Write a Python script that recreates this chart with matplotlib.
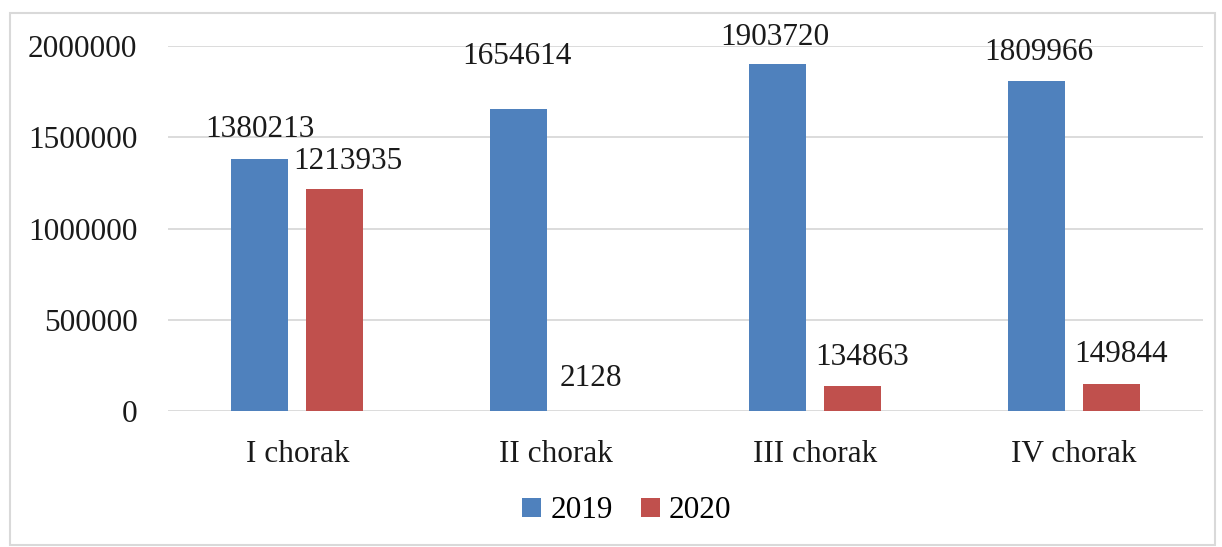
import matplotlib
matplotlib.use("Agg")
import matplotlib.pyplot as plt
from matplotlib.patches import Rectangle
import numpy as np

categories = ["I chorak", "II chorak", "III chorak", "IV chorak"]
series_names = ["2019", "2020"]
values_2019 = [1380213, 1654614, 1903720, 1809966]
values_2020 = [1213935, 2128, 134863, 149844]
yticks = [0, 500000, 1000000, 1500000, 2000000]

# label offsets (points) -- layout only
off_2019 = [(0, 21), (-1, 38), (-2, 19), (2, 20)]
off_2020 = [(9, 20), (-2, 23), (7, 21), (7, 21)]

colors = ["#4F81BD", "#C0504D"]
plt.rcParams["font.family"] = ["Liberation Serif", "DejaVu Serif"]
FS = 22.5

fig = plt.figure(figsize=(12.22, 5.47), dpi=100)
fig.patches.append(Rectangle((10/1222, 1-545/547), 1205/1222, 532/547,
                             transform=fig.transFigure, fill=False,
                             edgecolor="#D9D9D9", linewidth=1.5))
ax = fig.add_axes([168/1222, 1-411/547, (1203-168)/1222, (411-46)/547])

x = np.arange(len(categories))
w = 0.22
off = 0.145
b1 = ax.bar(x - off, values_2019, w, color=colors[0], label=series_names[0], zorder=3)
b2 = ax.bar(x + off, values_2020, w, color=colors[1], label=series_names[1], zorder=3)

for rects, vals, offs in ((b1, values_2019, off_2019), (b2, values_2020, off_2020)):
    for r, v, o in zip(rects, vals, offs):
        ax.annotate(str(v), (r.get_x() + r.get_width()/2, r.get_height()),
                    xytext=o, textcoords="offset points", ha="center",
                    va="center", fontsize=FS, color="#1a1a1a")

ax.set_xlim(-0.5, 3.5)
ax.set_ylim(0, 2000000)
ax.set_yticks(yticks)
ax.set_yticklabels([str(t) for t in yticks], fontsize=FS)
ax.set_xticks(x)
ax.set_xticklabels(categories, fontsize=FS)
ax.tick_params(axis="both", length=0, colors="#1a1a1a")
ax.tick_params(axis="y", pad=22)
ax.tick_params(axis="x", pad=21)
for s in ax.spines.values():
    s.set_visible(False)
ax.grid(axis="y", color="#D9D9D9", linewidth=1.3, zorder=0)
ax.set_axisbelow(True)

fig.legend(handles=[b1, b2], labels=series_names, loc="center",
           bbox_to_anchor=(627/1222, 1-511/547), ncol=2, frameon=False,
           fontsize=FS, handlelength=0.6, handleheight=0.6,
           handletextpad=0.3, columnspacing=0.9)

fig.savefig("out.png", dpi=100, facecolor="white")
